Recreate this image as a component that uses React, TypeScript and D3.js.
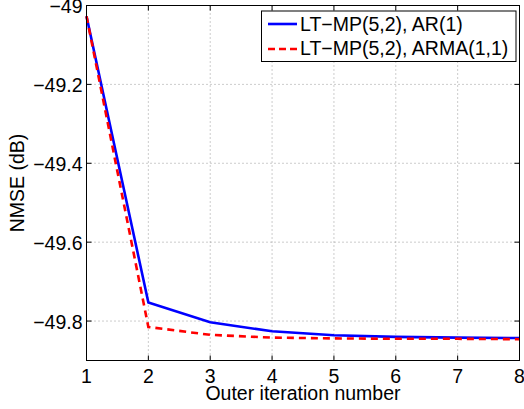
import React from "react";
import * as d3 from "d3";

const iterations = [1, 2, 3, 4, 5, 6, 7, 8];
const arSeries = [-49.027, -49.753, -49.803, -49.826, -49.836, -49.84, -49.842, -49.843];
const armaSeries = [-49.027, -49.815, -49.835, -49.842, -49.844, -49.845, -49.845, -49.846];
const xTicks = [1, 2, 3, 4, 5, 6, 7, 8];
const yTicks = [-49, -49.2, -49.4, -49.6, -49.8];
const legendLabels = ["LT\u2212MP(5,2), AR(1)", "LT\u2212MP(5,2), ARMA(1,1)"];

const W = 524, H = 409;
const L = 86.5, R = 519.5, T = 5.5, B = 360.5;
const FONT = "'Liberation Sans', Arial, Helvetica, sans-serif";

export default function App() {
  const x = d3.scaleLinear().domain([1, 8]).range([L, R]);
  const y = d3.scaleLinear().domain([-49.9, -49]).range([B, T]);
  const line = d3.line<number>().x((_, i) => x(iterations[i])).y(d => y(d));
  const fmt = (v: number) => (v < 0 ? "\u2212" : "") + String(Math.abs(v));
  const fs = 19.5;
  return (
    <svg width={W} height={H} style={{ position: "absolute", left: 0, top: 0, background: "#fff" }}>
      <rect x={0} y={0} width={W} height={H} fill="#fff" />
      {xTicks.slice(1, -1).map(t => (
        <line key={"gx" + t} x1={x(t)} x2={x(t)} y1={T} y2={B} stroke="#555" strokeWidth={0.6} strokeDasharray="1,3" />
      ))}
      {yTicks.slice(1).map(t => (
        <line key={"gy" + t} x1={L} x2={R} y1={y(t)} y2={y(t)} stroke="#555" strokeWidth={0.6} strokeDasharray="1,3" />
      ))}
      <path d={line(arSeries) || ""} fill="none" stroke="#0000ff" strokeWidth={2.6} />
      <path d={line(armaSeries) || ""} fill="none" stroke="#ff0000" strokeWidth={2.6} strokeDasharray="7,5" />
      <rect x={L} y={T} width={R - L} height={B - T} fill="none" stroke="#000" strokeWidth={1} />
      {xTicks.map(t => (
        <g key={"tx" + t}>
          <line x1={x(t)} x2={x(t)} y1={B} y2={B - 5} stroke="#000" />
          <line x1={x(t)} x2={x(t)} y1={T} y2={T + 5} stroke="#000" />
          <text x={x(t)} y={B + 22.5} textAnchor="middle" fontFamily={FONT} fontSize={fs}>{t}</text>
        </g>
      ))}
      {yTicks.map(t => (
        <g key={"ty" + t}>
          <line x1={L} x2={L + 5} y1={y(t)} y2={y(t)} stroke="#000" />
          <line x1={R} x2={R - 5} y1={y(t)} y2={y(t)} stroke="#000" />
          <text x={L - 4} y={y(t) + 7.5} textAnchor="end" fontFamily={FONT} fontSize={fs}>{fmt(t)}</text>
        </g>
      ))}
      <text x={(L + R) / 2} y={400} textAnchor="middle" fontFamily={FONT} fontSize={fs}>Outer iteration number</text>
      <text transform={`translate(24,${(T + B) / 2}) rotate(-90)`} textAnchor="middle" fontFamily={FONT} fontSize={fs}>NMSE (dB)</text>
      <g>
        <rect x={261.5} y={11} width={254.5} height={50.5} fill="#fff" stroke="#000" strokeWidth={1} />
        <line x1={268} x2={297} y1={24} y2={24} stroke="#0000ff" strokeWidth={2.6} />
        <line x1={268} x2={297} y1={49} y2={49} stroke="#ff0000" strokeWidth={2.6} strokeDasharray="7,4" />
        <text x={300} y={31} fontFamily={FONT} fontSize={fs}>{legendLabels[0]}</text>
        <text x={300} y={55} fontFamily={FONT} fontSize={fs}>{legendLabels[1]}</text>
      </g>
    </svg>
  );
}
